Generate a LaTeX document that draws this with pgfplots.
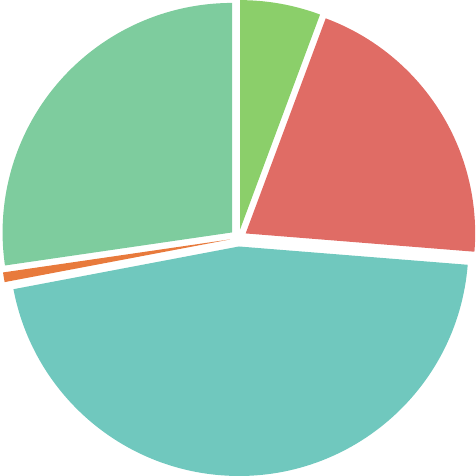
\documentclass[border=0pt]{standalone}
\usepackage{pgfplots}
\usepackage{pgfplotstable}
\pgfplotsset{compat=1.18}

\definecolor{cA}{HTML}{8BCF6A}
\definecolor{cB}{HTML}{E06C65}
\definecolor{cC}{HTML}{70C8BE}
\definecolor{cD}{HTML}{E87A3C}
\definecolor{cE}{HTML}{7ECC9E}

% share of each slice in percent, clockwise from the top
\pgfplotstableread{
value color
5.67  cA
20.6  cB
45.75 cC
0.68  cD
27.3  cE
}\piedata

\begin{document}
\begin{tikzpicture}
\begin{axis}[
  hide axis, scale only axis,
  x=0.5pt, y=0.5pt,
  xmin=-238.5, xmax=237.5, ymin=-238, ymax=238,
  clip=false,
]
\pgfplotstablegetrowsof{\piedata}
\pgfmathtruncatemacro\nrows{\pgfplotsretval-1}
\def\cum{0}
\pgfplotsforeachungrouped \i in {0,...,\nrows}{
  \pgfplotstablegetelem{\i}{value}\of\piedata \let\val\pgfplotsretval
  \pgfplotstablegetelem{\i}{color}\of\piedata \let\col\pgfplotsretval
  \pgfmathsetmacro\aA{90-3.6*\cum}
  \pgfmathsetmacro\aB{90-3.6*(\cum+\val)}
  \pgfmathsetmacro\aM{(\aA+\aB)/2}
  \pgfmathsetmacro\dx{8.5*cos(\aM)}
  \pgfmathsetmacro\dy{8.5*sin(\aM)}
  \edef\temp{\noexpand\fill[\col] (axis cs:\dx,\dy) -- ++(\aA:114.75pt)
    arc[start angle=\aA, end angle=\aB, radius=114.75pt] -- cycle;}
  \temp
  \pgfmathsetmacro\cum{\cum+\val}
}
\end{axis}
\pgfresetboundingbox
\path (current axis.south west) rectangle (current axis.north east);
\end{tikzpicture}
\end{document}
